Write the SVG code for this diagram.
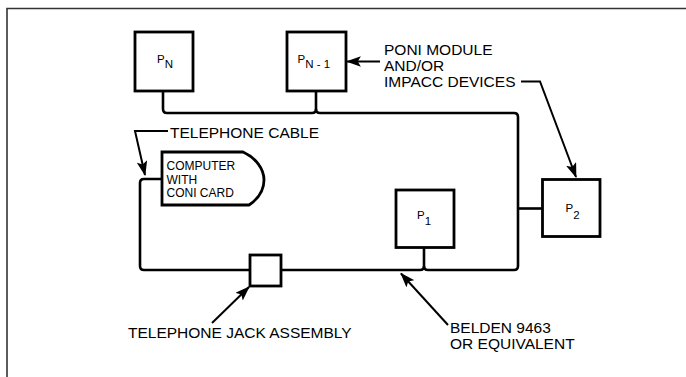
<svg xmlns="http://www.w3.org/2000/svg" width="686" height="377" viewBox="0 0 686 377">
<style>
.box{fill:#fff;stroke:#000;stroke-width:2.8}
.wire{fill:none;stroke:#000;stroke-width:2.6;stroke-linejoin:round}
.lead{fill:none;stroke:#000;stroke-width:2}
.lbl{font-family:"Liberation Sans",Arial,sans-serif;font-size:15.5px;fill:#000}
.sm{font-family:"Liberation Sans",Arial,sans-serif;font-size:12px;fill:#000}
.p{font-family:"Liberation Sans",Arial,sans-serif;font-size:11.5px;fill:#000}
</style>
<defs>
<marker id="ah" viewBox="0 0 14 10" refX="13" refY="5" markerWidth="7.5" markerHeight="5.4" orient="auto" markerUnits="strokeWidth">
<path d="M0,0 L14,5 L0,10 L3,5 Z" fill="#000"/>
</marker>
</defs>
<rect width="686" height="377" fill="#fff"/>
<path d="M7,377 V8.5 H686" fill="none" stroke="#333" stroke-width="1.6"/>
<g id="connectors">
<path class="wire" d="M163,91 V109 Q163,113 167,113 H312 Q316,113 316,109 V91"/>
<path class="wire" d="M316,109 Q316,113 320,113 H514 Q518,113 518,117 V266 Q518,270 514,270 H428 Q424,270 424,266 V248"/>
<path class="wire" d="M424,266 Q424,270 420,270 H281"/>
<path class="wire" d="M250,270 H144 Q140,270 140,266 V183 Q140,179 144,179 H162"/>
<path class="wire" d="M518,208.5 H542"/>
<path class="lead" d="M380,61.5 H347" marker-end="url(#ah)"/>
<path class="lead" d="M521,81.5 H540 L576,177" marker-end="url(#ah)"/>
<path class="lead" d="M168,131 H135 L145,175" marker-end="url(#ah)"/>
<path class="lead" d="M212,323 L249,287" marker-end="url(#ah)"/>
<path class="lead" d="M448,325 L401,273.5" marker-end="url(#ah)"/>
</g>
<g id="pn">
<rect class="box" x="135" y="32" width="58" height="59"/>
<text class="p" x="157" y="63">P<tspan dy="4.5">N</tspan></text>
</g>
<g id="pn1">
<rect class="box" x="287" y="32" width="59" height="59"/>
<text class="p" x="297.5" y="63">P<tspan dy="4.5">N - 1</tspan></text>
</g>
<g id="p1">
<rect class="box" x="396" y="190" width="58" height="57.5"/>
<text class="p" x="417" y="219">P<tspan dy="6">1</tspan></text>
</g>
<g id="p2">
<rect class="box" x="542.5" y="179.5" width="57.5" height="57"/>
<text class="p" x="565.5" y="211.5">P<tspan dy="7">2</tspan></text>
</g>
<g id="jack">
<rect class="box" x="250" y="255" width="31" height="31"/>
</g>
<g id="computer">
<path class="box" d="M162,152 H243 C256,158 264,169 264,180 C264,191 258,199 249,205 H162 Z"/>
<text class="sm" x="166.5" y="170">COMPUTER</text>
<text class="sm" x="166.5" y="183.5">WITH</text>
<text class="sm" x="166.5" y="197">CONI CARD</text>
</g>
<g id="labels">
<text class="lbl" x="170" y="138">TELEPHONE CABLE</text>
<text class="lbl" x="384" y="55">PONI MODULE</text>
<text class="lbl" x="384" y="71">AND/OR</text>
<text class="lbl" x="384" y="87">IMPACC DEVICES</text>
<text class="lbl" x="128" y="338">TELEPHONE JACK ASSEMBLY</text>
<text class="lbl" x="450" y="333">BELDEN 9463</text>
<text class="lbl" x="450" y="349">OR EQUIVALENT</text>
</g>
</svg>
